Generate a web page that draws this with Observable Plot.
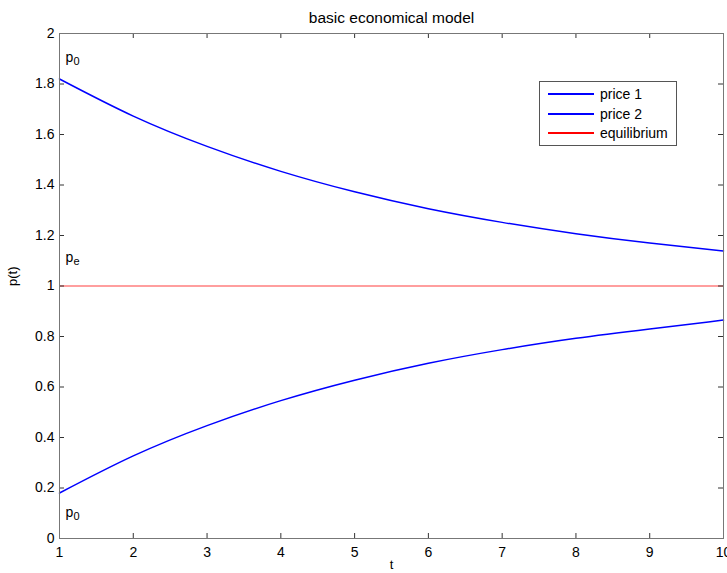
<!DOCTYPE html>
<html>
<head>
<meta charset="utf-8">
<script src="https://cdn.jsdelivr.net/npm/d3@7"></script>
<script src="https://cdn.jsdelivr.net/npm/@observablehq/plot@0.6"></script>
<style>
  html, body { margin: 0; padding: 0; background: #fff; }
  #wrap { position: relative; width: 727px; height: 573px; font-family: "Liberation Sans", Arial, Helvetica, sans-serif; }
  #legend { position: absolute; left: 539px; top: 81px; width: 138px; height: 65px; border: 1px solid #555; background: #fff; box-sizing: border-box; font-size: 14px; color: #000; }
  #legend .row { position: absolute; left: 8px; height: 20px; display: flex; align-items: center; }
  #legend .sw { display: inline-block; width: 46px; height: 2px; margin-right: 6px; }
</style>
</head>
<body>
<div id="wrap"></div>
<script>
// ---- data ----
const tValues = [1, 2, 3, 4, 5, 6, 7, 8, 9, 10];
const price1 = [1.82, 1.673, 1.553, 1.454, 1.373, 1.306, 1.252, 1.207, 1.17, 1.139];
const price2 = [0.18, 0.327, 0.447, 0.546, 0.627, 0.694, 0.748, 0.793, 0.83, 0.865];
const equilibrium = 1;
const xTicks = [1, 2, 3, 4, 5, 6, 7, 8, 9, 10];
const yTicks = [0, 0.2, 0.4, 0.6, 0.8, 1, 1.2, 1.4, 1.6, 1.8, 2];
const seriesNames = ["price 1", "price 2", "equilibrium"];
const seriesColors = ["#0000ff", "#0000ff", "#ff0000"];
const annotations = [
  {t: 1.08, p: 1.904, main: "p", sub: "0"},
  {t: 1.08, p: 1.112, main: "p", sub: "e"},
  {t: 1.08, p: 0.102, main: "p", sub: "0"}
];
const titleText = "basic economical model";
const xLabel = "t";
const yLabel = "p(t)";

// ---- build ----
const W = 727, H = 573;
const mL = 59, mR = 4, mT = 33, mB = 35;
const plotW = W - mL - mR, plotH = H - mT - mB;
const tickLen = 5;

const rows1 = tValues.map((t, i) => ({t, p: price1[i], s: "price 1"}));
const rows2 = tValues.map((t, i) => ({t, p: price2[i], s: "price 2"}));

const chart = Plot.plot({
  width: W, height: H,
  marginLeft: mL, marginRight: mR, marginTop: mT, marginBottom: mB,
  style: {fontFamily: '"Liberation Sans", Arial, Helvetica, sans-serif', fontSize: "14px", background: "#fff", overflow: "visible"},
  x: {domain: [1, 10]},
  y: {domain: [0, 2]},
  marks: [
    Plot.ruleY([equilibrium], {stroke: seriesColors[2], strokeWidth: 0.9, strokeOpacity: 0.85}),
    Plot.line(rows1, {x: "t", y: "p", stroke: seriesColors[0], strokeWidth: 1.5, curve: "natural"}),
    Plot.line(rows2, {x: "t", y: "p", stroke: seriesColors[1], strokeWidth: 1.5, curve: "natural"}),
    Plot.text(annotations, {x: "t", y: "p", text: "main", textAnchor: "start", fontSize: 14, fill: "#000"}),
    Plot.text(annotations, {x: "t", y: "p", text: "sub", textAnchor: "start", fontSize: 11, dx: 8, dy: 4, fill: "#000"}),
    // inward ticks
    Plot.tickX(xTicks, {x: d => d, insetTop: plotH - tickLen, stroke: "#333"}),
    Plot.tickX(xTicks, {x: d => d, insetBottom: plotH - tickLen, stroke: "#333"}),
    Plot.tickY(yTicks, {y: d => d, insetRight: plotW - tickLen, stroke: "#333"}),
    Plot.tickY(yTicks, {y: d => d, insetLeft: plotW - tickLen, stroke: "#333"}),
    Plot.frame({stroke: "#777"}),
    Plot.axisX(xTicks, {tickSize: 0, tickPadding: 9, fontSize: 14, label: null, tickFormat: d => String(d)}),
    Plot.axisY(yTicks, {tickSize: 0, tickPadding: 5, fontSize: 14, label: null, tickFormat: d => String(d)}),
    Plot.text([xLabel], {frameAnchor: "bottom", dy: 30, text: d => d, fontSize: 13}),
    Plot.text([yLabel], {frameAnchor: "left", dx: -47, rotate: -90, text: d => d, fontSize: 13}),
    Plot.text([titleText], {frameAnchor: "top", dy: -22, text: d => d, fontSize: 15.5})
  ]
});

const wrap = document.getElementById("wrap");
wrap.appendChild(chart);

const legend = document.createElement("div");
legend.id = "legend";
const rowTops = [2, 22, 41];
seriesNames.forEach((name, i) => {
  const row = document.createElement("div");
  row.className = "row";
  row.style.top = rowTops[i] + "px";
  const sw = document.createElement("span");
  sw.className = "sw";
  sw.style.background = seriesColors[i];
  const lab = document.createElement("span");
  lab.textContent = name;
  row.appendChild(sw);
  row.appendChild(lab);
  legend.appendChild(row);
});
wrap.appendChild(legend);
</script>
</body>
</html>
